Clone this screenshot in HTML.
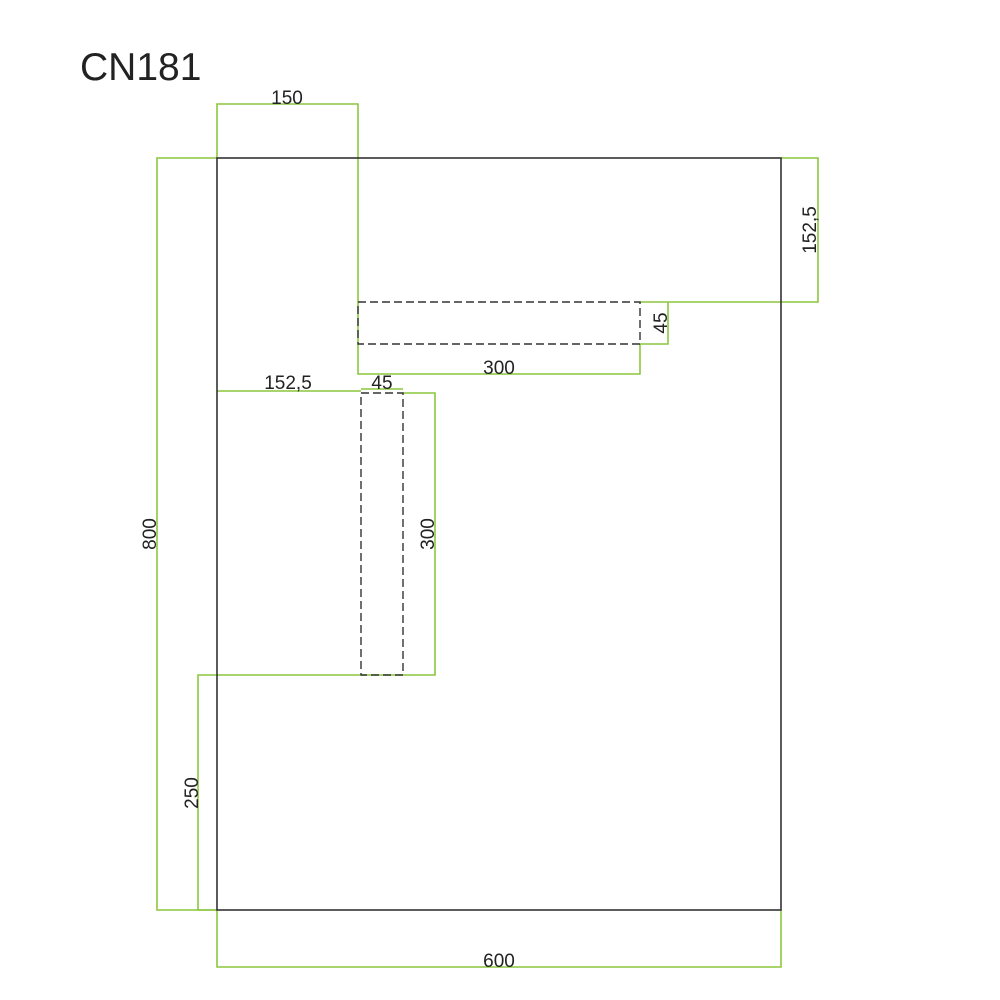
<!DOCTYPE html>
<html><head><meta charset="utf-8"><style>
html,body{margin:0;padding:0;background:#fff;}
svg{display:block;}
text{font-family:"Liberation Sans",sans-serif;fill:#222;}
</style></head><body>
<svg width="1000" height="1000" viewBox="0 0 1000 1000" xmlns="http://www.w3.org/2000/svg">
<rect width="1000" height="1000" fill="#fff"/>
<text x="80" y="80" font-size="39">CN181</text>
<g stroke="#8cc63f" stroke-width="1.6" fill="none">
<polyline points="217,158 217,104 358,104 358,374 640,374 640,344"/>
<polyline points="781,158 818,158 818,302 640,302"/>
<polyline points="640,344 668,344 668,302"/>
<polyline points="217,158 157,158 157,910 217,910"/>
<polyline points="217,910 217,967 781,967 781,910"/>
<line x1="217" y1="391" x2="361" y2="391"/>
<line x1="361" y1="389" x2="403" y2="389"/>
<polyline points="403,393 435,393 435,675 198,675 198,910 217,910"/>
</g>
<rect x="217" y="158" width="564" height="752" fill="none" stroke="#333" stroke-width="1.6"/>
<g stroke="#333" stroke-width="1.4" fill="none" stroke-dasharray="8,4">
<rect x="358" y="302" width="282" height="42"/>
<rect x="361" y="393" width="42" height="282"/>
</g>
<g font-size="19">
<text x="287" y="104" text-anchor="middle">150</text>
<text x="288" y="389" text-anchor="middle">152,5</text>
<text x="382" y="389" text-anchor="middle">45</text>
<text x="499" y="374" text-anchor="middle">300</text>
<text x="499" y="967" text-anchor="middle">600</text>
<text transform="translate(816,230) rotate(-90)" text-anchor="middle">152,5</text>
<text transform="translate(667,323) rotate(-90)" text-anchor="middle">45</text>
<text transform="translate(434,534) rotate(-90)" text-anchor="middle">300</text>
<text transform="translate(156,534) rotate(-90)" text-anchor="middle">800</text>
<text transform="translate(198,793) rotate(-90)" text-anchor="middle">250</text>
</g>
</svg>
</body></html>
